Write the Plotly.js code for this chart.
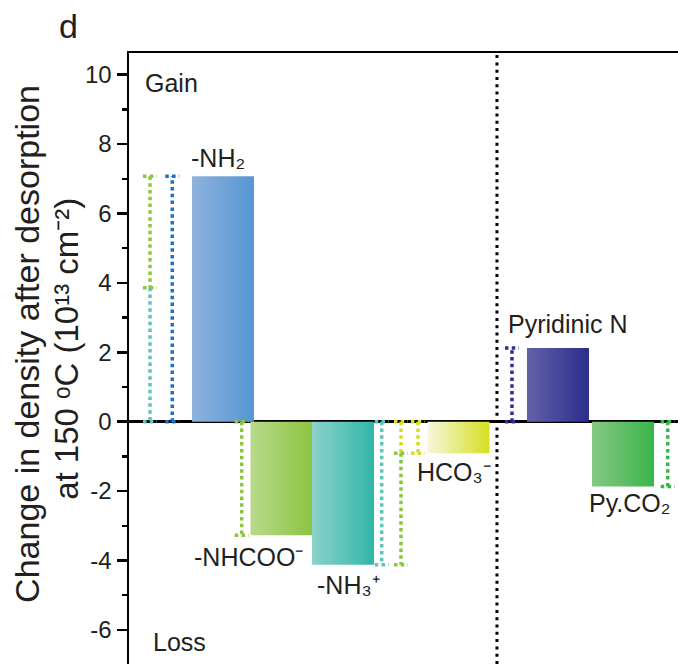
<!DOCTYPE html>
<html><head><meta charset="utf-8">
<script src="https://cdn.plot.ly/plotly-3.0.1.min.js"></script>
<style>html,body{margin:0;padding:0;background:#fff;overflow:hidden}</style>
</head><body><div id="chart" style="width:678px;height:664px"></div>
<script>
// ---- data ----
const categories = ['-NH₂', '-NHCOO⁻', '-NH₃⁺', 'HCO₃⁻', 'Pyridinic N', 'Py.CO₂'];
const densityChange = [7.07, -3.27, -4.12, -0.91, 2.12, -1.87];
const yTickVals = [-6, -4, -2, 0, 2, 4, 6, 8, 10];
const yTickText = ['-6', '-4', '-2', '0', '2', '4', '6', '8', '10'];

// ---- styles / layout positions ----
const barLight = ['#8eb2de', '#b9da8c', '#8cd2ca', '#f6f6de', '#6262aa', '#86c984'];
const barDark  = ['#5696d2', '#8cc440', '#30b7a8', '#d6e020', '#2c2c8c', '#3ab44a'];
const barX = [1.516, 2.460, 3.452, 5.315, 6.919, 7.968];
const barWidth = 1.0;
const C = {blue:'#1f72c0', green:'#8cc63f', teal:'#5fc4b9', yellow:'#d4de2a', navy:'#2e3192', green2:'#39b54a'};
const TXT = '#231f20';
const FONT = 'Liberation Sans, Arial, Helvetica, sans-serif';

const v = densityChange;
const traces = [];
// bars (gradient-filled rectangles built from the values)
categories.forEach((name, i) => {
  const x0 = barX[i] - barWidth / 2, x1 = barX[i] + barWidth / 2;
  traces.push({
    type: 'scatter', mode: 'lines', name: name,
    x: [x0, x1, x1, x0, x0], y: [0, 0, v[i], v[i], 0],
    fill: 'toself', line: {width: 0},
    fillgradient: {type: 'horizontal', colorscale: [[0, barLight[i]], [1, barDark[i]]]},
    hoverinfo: 'skip'
  });
});

// dotted brackets
const capHalf = 0.113;
const junction = v[0] + (v[2] - v[3]);
const brackets = [
  {x: 0.339, y0: v[0], y1: junction, c: C.green, caps: [1, 1]},
  {x: 0.339, y0: junction, y1: 0, c: C.teal, caps: [0, 1]},
  {x: 0.698, y0: 0, y1: v[0], c: C.blue, caps: [1, 1]},
  {x: 1.818, y0: 0, y1: v[1], c: C.green, caps: [1, 1]},
  {x: 4.076, y0: 0, y1: v[2], c: C.teal, caps: [1, 1]},
  {x: 4.387, y0: 0, y1: v[3], c: C.yellow, caps: [1, 0]},
  {x: 4.387, y0: v[3], y1: v[2], c: C.green, caps: [1, 1]},
  {x: 4.661, y0: 0, y1: v[3], c: C.yellow, caps: [1, 1]},
  {x: 6.177, y0: 0, y1: v[4], c: C.navy, caps: [1, 1]},
  {x: 8.689, y0: 0, y1: v[5], c: C.green2, caps: [1, 1]}
];
brackets.forEach(b => {
  const xs = [b.x, b.x], ys = [b.y0, b.y1];
  if (b.caps[0]) { xs.push(null, b.x - capHalf, b.x + capHalf); ys.push(null, b.y0, b.y0); }
  if (b.caps[1]) { xs.push(null, b.x - capHalf, b.x + capHalf); ys.push(null, b.y1, b.y1); }
  traces.push({type: 'scatter', mode: 'lines', x: xs, y: ys, connectgaps: false,
    line: {color: b.c, width: 3.5, dash: '3.5px,3.3px'}, hoverinfo: 'skip'});
});

// labels
const labelShift = [[-4.5, 18], [-33.5, -21.7], [5, -20.3], [-4.5, -18.8], [10, 24], [6, -16.4]];
const annotations = categories.map((name, i) => ({
  x: barX[i], y: v[i], xref: 'x', yref: 'y', text: name, showarrow: false,
  xanchor: 'center', yanchor: 'middle', xshift: labelShift[i][0], yshift: labelShift[i][1],
  font: {family: FONT, size: 25, color: TXT}
}));
annotations.push(
  {x: 0.226, y: 9.775, xref: 'x', yref: 'y', text: 'Gain', showarrow: false, xanchor: 'left', yanchor: 'middle', font: {family: FONT, size: 25, color: TXT}},
  {x: 0.35, y: -6.349, xref: 'x', yref: 'y', text: 'Loss', showarrow: false, xanchor: 'left', yanchor: 'middle', font: {family: FONT, size: 25, color: TXT}},
  {x: -0.1311, y: 1.0445, xref: 'paper', yref: 'paper', text: 'd', showarrow: false, xanchor: 'left', yanchor: 'middle', font: {family: FONT, size: 34, color: TXT}},
  {x: -0.186, y: 0.5237, xref: 'paper', yref: 'paper', text: 'Change in density after desorption', textangle: -90, showarrow: false, xanchor: 'center', yanchor: 'middle', font: {family: FONT, size: 34, color: TXT}},
  {x: -0.113, y: 0.5157, xref: 'paper', yref: 'paper', text: 'at 150 ᵒC (10¹³ cm⁻²)', textangle: -90, showarrow: false, xanchor: 'center', yanchor: 'middle', font: {family: FONT, size: 33, color: TXT}}
);

const minorVals = yTickVals.slice(1).map((t, i) => (t + yTickVals[i]) / 2);

const layout = {
  width: 678, height: 664,
  margin: {l: 129, r: 0, t: 53, b: 0, pad: 0},
  paper_bgcolor: '#fff', plot_bgcolor: '#fff',
  showlegend: false,
  xaxis: {range: [0, 8.855], side: 'top', showline: true, linecolor: '#000', linewidth: 2.5,
          showticklabels: false, ticks: '', showgrid: false, zeroline: false, fixedrange: true},
  yaxis: {range: [-6.983, 10.625], showline: true, linecolor: '#000', linewidth: 2.5,
          tickmode: 'array', tickvals: yTickVals, ticktext: yTickText,
          ticks: 'outside', ticklen: 10, tickwidth: 2.5, tickcolor: '#000',
          tickfont: {family: FONT, size: 24, color: TXT},
          minor: {tickmode: 'array', tickvals: minorVals, ticks: 'outside', ticklen: 5, tickwidth: 2.5, tickcolor: '#000', showgrid: false},
          showgrid: false, zeroline: true, zerolinecolor: '#000', zerolinewidth: 3,
          layer: 'above traces', fixedrange: true},
  shapes: [{type: 'line', xref: 'x', yref: 'paper', x0: 5.935, x1: 5.935, y0: 0, y1: 1,
            line: {color: '#000', width: 3, dash: '3px,4.3px'}, layer: 'above'}],
  annotations: annotations
};
Plotly.newPlot('chart', traces, layout, {displayModeBar: false, staticPlot: true});
</script></body></html>
